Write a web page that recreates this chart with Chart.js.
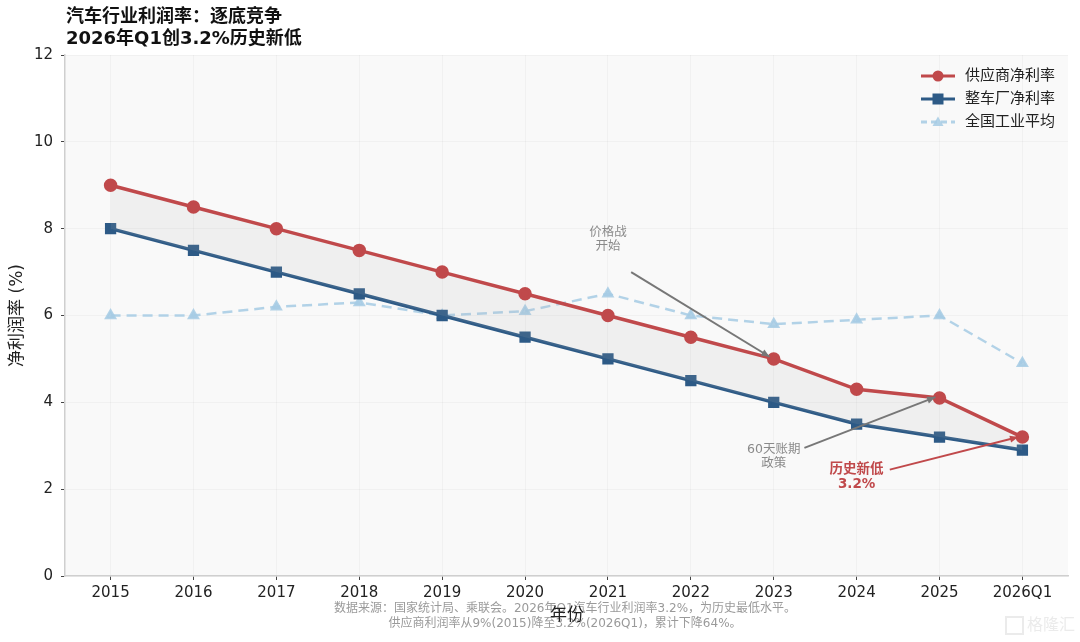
<!DOCTYPE html>
<html lang="zh">
<head>
    <meta charset="UTF-8">
    <title>汽车行业利润率</title>
    <script src="https://cdn.jsdelivr.net/npm/chart.js"></script>
    <style>
        body { margin: 0; background: #fff; }
        #wrap { width: 1080px; height: 642px; }
    </style>
</head>
<body>
<div id="wrap"><canvas id="chart" width="1080" height="642"></canvas></div>
<script>
    // data
    const years = ['2015', '2016', '2017', '2018', '2019', '2020', '2021', '2022', '2023', '2024', '2025', '2026Q1'];
    const supplierMargin = [9.0, 8.5, 8.0, 7.5, 7.0, 6.5, 6.0, 5.5, 5.0, 4.3, 4.1, 3.2];
    const oemMargin = [8.0, 7.5, 7.0, 6.5, 6.0, 5.5, 5.0, 4.5, 4.0, 3.5, 3.2, 2.9];
    const industryAvg = [6.0, 6.0, 6.2, 6.3, 6.0, 6.1, 6.5, 6.0, 5.8, 5.9, 6.0, 4.9];
    const yTicks = [0, 2, 4, 6, 8, 10, 12];

    // latin glyphs from DejaVu, chinese falls back to Noto CJK
    const FONT = '"DejaVu Sans", "Noto Sans CJK SC", sans-serif';
    const RED = '#c0494b';
    const BLUE = '#2d5a86';
    const LIGHT = 'rgba(166, 203, 228, 0.85)';

    const toXY = arr => arr.map((v, i) => ({ x: i, y: v }));

    // notes: text position and arrow target in data units
    const notes = [
        { lines: ['价格战', '开始'], tx: 6.0, ty: 7.75, from: [6.28, 7.0], to: [7.95, 5.05], color: '#8a8a8a', arrow: '#777', bold: false, size: 12.5 },
        { lines: ['60天账期', '政策'], tx: 8.0, ty: 2.75, from: [8.37, 2.95], to: [9.95, 4.12], color: '#8a8a8a', arrow: '#777', bold: false, size: 12.5 },
        { lines: ['历史新低', '3.2%'], tx: 9.0, ty: 2.28, from: [9.4, 2.45], to: [10.95, 3.2], color: RED, arrow: RED, bold: true, size: 13.5 }
    ];

    const decorPlugin = {
        id: 'decor',
        beforeDraw(chart) {
            const { ctx, chartArea: a } = chart;
            ctx.save();
            ctx.fillStyle = '#fff';
            ctx.fillRect(0, 0, chart.width, chart.height);
            ctx.fillStyle = '#f9f9f9';
            ctx.fillRect(a.left, a.top, a.right - a.left, a.bottom - a.top);
            ctx.restore();
        },
        afterDatasetsDraw(chart) {
            const { ctx, scales } = chart;
            const px = v => scales.x.getPixelForValue(v);
            const py = v => scales.y.getPixelForValue(v);
            ctx.save();
            notes.forEach(n => {
                // arrow
                const x1 = px(n.from[0]), y1 = py(n.from[1]);
                const x2 = px(n.to[0]), y2 = py(n.to[1]);
                ctx.strokeStyle = n.arrow;
                ctx.fillStyle = n.arrow;
                ctx.lineWidth = 2;
                ctx.beginPath();
                ctx.moveTo(x1, y1);
                ctx.lineTo(x2, y2);
                ctx.stroke();
                const ang = Math.atan2(y2 - y1, x2 - x1);
                ctx.beginPath();
                ctx.moveTo(x2, y2);
                ctx.lineTo(x2 - 9 * Math.cos(ang - 0.4), y2 - 9 * Math.sin(ang - 0.4));
                ctx.lineTo(x2 - 9 * Math.cos(ang + 0.4), y2 - 9 * Math.sin(ang + 0.4));
                ctx.closePath();
                ctx.fill();
                // text
                ctx.fillStyle = n.color;
                ctx.font = (n.bold ? 'bold ' : '') + n.size + 'px ' + FONT;
                ctx.textAlign = 'center';
                ctx.textBaseline = 'middle';
                const cx = px(n.tx), cy = py(n.ty);
                const lh = n.size + 2;
                n.lines.forEach((t, i) => {
                    ctx.fillText(t, cx, cy + (i - (n.lines.length - 1) / 2) * lh);
                });
            });
            ctx.restore();
        },
        afterDraw(chart) {
            const { ctx, chartArea: a } = chart;
            ctx.save();
            // title
            ctx.fillStyle = '#111';
            ctx.font = 'bold 18px ' + FONT;
            ctx.textAlign = 'left';
            ctx.textBaseline = 'middle';
            ctx.fillText('汽车行业利润率：逐底竞争', 66, 17);
            ctx.fillText('2026年Q1创3.2%历史新低', 66, 39);

            // y axis title
            ctx.save();
            ctx.translate(18, (a.top + a.bottom) / 2);
            ctx.rotate(-Math.PI / 2);
            ctx.textAlign = 'center';
            ctx.font = '17px ' + FONT;
            ctx.fillStyle = '#222';
            ctx.fillText('净利润率 (%)', 0, 0);
            ctx.restore();

            // footnote
            ctx.textAlign = 'center';
            ctx.fillStyle = '#9a9a9a';
            ctx.font = '12px ' + FONT;
            ctx.fillText('数据来源：国家统计局、乘联会。2026年Q1汽车行业利润率3.2%，为历史最低水平。', 565, 609);
            ctx.fillText('供应商利润率从9%(2015)降至3.2%(2026Q1)，累计下降64%。', 565, 624);

            // x axis title (drawn over the footnote, as in the source)
            ctx.fillStyle = '#222';
            ctx.font = '17px ' + FONT;
            ctx.fillText('年份', 567, 616);

            // legend
            const items = [
                { label: '供应商净利率', color: RED, style: 'circle', dash: [] },
                { label: '整车厂净利率', color: BLUE, style: 'rect', dash: [] },
                { label: '全国工业平均', color: LIGHT, style: 'triangle', dash: [6, 4] }
            ];
            ctx.font = '15px ' + FONT;
            ctx.textAlign = 'left';
            items.forEach((it, i) => {
                const y = 76 + i * 23;
                ctx.strokeStyle = it.color;
                ctx.fillStyle = it.color;
                ctx.lineWidth = 3;
                ctx.setLineDash(it.dash);
                ctx.beginPath();
                ctx.moveTo(921, y);
                ctx.lineTo(955, y);
                ctx.stroke();
                ctx.setLineDash([]);
                ctx.beginPath();
                if (it.style === 'circle') {
                    ctx.arc(938, y, 5.5, 0, Math.PI * 2);
                } else if (it.style === 'rect') {
                    ctx.rect(932.5, y - 5.5, 11, 11);
                } else {
                    ctx.moveTo(938, y - 5.5);
                    ctx.lineTo(943.5, y + 4);
                    ctx.lineTo(932.5, y + 4);
                    ctx.closePath();
                }
                ctx.fill();
                ctx.fillStyle = '#222';
                ctx.fillText(it.label, 965, y);
            });

            // watermark
            ctx.fillStyle = 'rgba(215,215,215,0.5)';
            ctx.font = '16px ' + FONT;
            ctx.strokeStyle = 'rgba(215,215,215,0.5)';
            ctx.lineWidth = 2;
            ctx.strokeRect(1006, 617, 17, 17);
            ctx.fillText('格隆汇', 1027, 626);
            ctx.restore();
        }
    };

    const ctx = document.getElementById('chart').getContext('2d');
    const chart = new Chart(ctx, {
        type: 'line',
        data: {
            datasets: [
                {
                    label: '供应商净利率',
                    data: toXY(supplierMargin),
                    borderColor: RED,
                    backgroundColor: 'rgba(175,175,175,0.13)',
                    pointBackgroundColor: RED,
                    pointBorderColor: RED,
                    borderWidth: 3.5,
                    pointRadius: 5,
                    pointStyle: 'circle',
                    fill: '+1',
                    order: 1
                },
                {
                    label: '整车厂净利率',
                    data: toXY(oemMargin),
                    borderColor: BLUE,
                    backgroundColor: BLUE,
                    pointBackgroundColor: BLUE,
                    pointBorderColor: BLUE,
                    borderWidth: 3.5,
                    pointRadius: 5.5,
                    pointStyle: 'rect',
                    fill: false,
                    order: 2
                },
                {
                    label: '全国工业平均',
                    data: toXY(industryAvg),
                    borderColor: LIGHT,
                    backgroundColor: LIGHT,
                    pointBackgroundColor: LIGHT,
                    pointBorderColor: LIGHT,
                    borderWidth: 2.5,
                    borderDash: [10, 6],
                    pointRadius: 5,
                    pointStyle: 'triangle',
                    fill: false,
                    order: 3
                }
            ]
        },
        options: {
            responsive: false,
            animation: false,
            layout: { padding: { top: 55, right: 12, bottom: 0, left: 0 } },
            plugins: {
                legend: { display: false },
                tooltip: { enabled: false }
            },
            scales: {
                x: {
                    type: 'linear',
                    min: -0.55,
                    max: years.length - 1 + 0.55,
                    afterBuildTicks: s => { s.ticks = years.map((_, i) => ({ value: i })); },
                    afterFit: s => { s.height = 66; },
                    ticks: {
                        callback: v => years[v],
                        color: '#222',
                        font: { family: 'DejaVu Sans', size: 15 },
                        padding: 4,
                        maxRotation: 0,
                        autoSkip: false
                    },
                    grid: { color: 'rgba(0,0,0,0.03)', tickColor: '#444', tickLength: 4 },
                    border: { color: '#cfcfcf', width: 1.5 }
                },
                y: {
                    min: 0,
                    max: 12,
                    afterBuildTicks: s => { s.ticks = yTicks.map(v => ({ value: v })); },
                    afterFit: s => { s.width = 65; },
                    ticks: {
                        color: '#222',
                        font: { family: 'DejaVu Sans', size: 15 },
                        padding: 8
                    },
                    grid: { color: 'rgba(0,0,0,0.03)', tickColor: '#444', tickLength: 4 },
                    border: { color: '#cfcfcf', width: 1.5 }
                }
            }
        },
        plugins: [decorPlugin]
    });
</script>
</body>
</html>
